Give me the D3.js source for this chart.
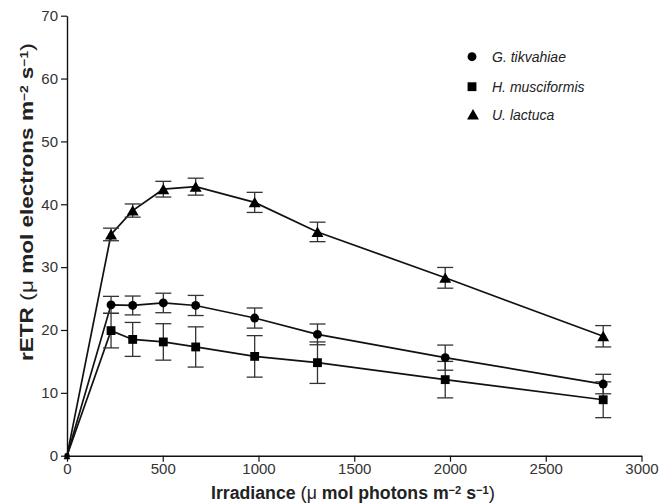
<!DOCTYPE html>
<html>
<head>
<meta charset="utf-8">
<script src="https://cdn.jsdelivr.net/npm/d3@7"></script>
<style>
  body { margin: 0; background: #fff; }
  text { font-family: "Liberation Sans", Arial, sans-serif; }
</style>
</head>
<body>
<div id="vis1"></div>
<script>
// irradiance steps (x) and rETR per species
const irradiance = [0, 230, 343, 503, 672, 980, 1308, 1975, 2800];
const gTikvahiae = [0, 24.0, 23.9, 24.3, 23.9, 21.9, 19.3, 15.6, 11.4];
const gTikvahiaeErr = [0, 1.35, 1.5, 1.55, 1.6, 1.6, 1.65, 2.0, 1.55];
const hMusciformis = [0, 19.9, 18.5, 18.1, 17.3, 15.8, 14.8, 12.1, 8.9];
const hMusciformisErr = [0, 2.75, 2.7, 2.9, 3.2, 3.3, 3.3, 2.9, 2.85];
const uLactuca = [0, 35.2, 39.0, 42.4, 42.8, 40.3, 35.6, 28.3, 19.0];
const uLactucaErr = [0, 1.0, 1.05, 1.25, 1.35, 1.6, 1.55, 1.65, 1.7];
const speciesNames = ['G. tikvahiae', 'H. musciformis', 'U. lactuca'];
const xTicks = [0, 500, 1000, 1500, 2000, 2500, 3000];
const yTicks = [0, 10, 20, 30, 40, 50, 60, 70];

const W = 671, H = 504;
const margin = {top: 15.7, left: 67, right: 29.5, bottom: 48.3};

const svg1 = d3.select('#vis1')
  .append('svg')
  .attr('width', W)
  .attr('height', H);

let x = d3.scaleLinear()
  .domain([0, 3000])
  .range([margin.left, W - margin.right]);

let y = d3.scaleLinear()
  .domain([0, 70])
  .range([H - margin.bottom, margin.top]);

// axes
let xAxis = svg1.append('g')
  .attr('transform', `translate(0,${y(0)})`)
  .call(d3.axisBottom(x).tickValues(xTicks).tickFormat(d3.format('d'))
    .tickSize(6).tickPadding(1.5).tickSizeOuter(0));

let yAxis = svg1.append('g')
  .attr('transform', `translate(${x(0)},0)`)
  .call(d3.axisLeft(y).tickValues(yTicks).tickSize(6).tickPadding(3).tickSizeOuter(0));

[xAxis, yAxis].forEach(a => {
  a.select('.domain').attr('stroke', '#111').attr('stroke-width', 1.4);
  a.selectAll('.tick line').attr('stroke', '#111').attr('stroke-width', 1.2);
  a.selectAll('.tick text')
    .attr('fill', '#333')
    .style('font-size', '15px')
    .style('font-family', '"Liberation Sans", Arial, sans-serif');
});

// series
let series = [
  {name: speciesNames[0], values: gTikvahiae, err: gTikvahiaeErr, symbol: d3.symbolCircle, size: 62},
  {name: speciesNames[1], values: hMusciformis, err: hMusciformisErr, symbol: d3.symbolSquare, size: 78},
  {name: speciesNames[2], values: uLactuca, err: uLactucaErr, symbol: d3.symbolTriangle, size: 62}
];

let line = d3.line()
  .x(d => x(d.x))
  .y(d => y(d.y));

series.forEach(s => {
  s.points = irradiance.map((v, i) => ({x: v, y: s.values[i], e: s.err[i]}));
});

svg1.append('g')
  .selectAll('path')
  .data(series)
  .join('path')
    .attr('d', d => line(d.points))
    .attr('fill', 'none')
    .attr('stroke', '#111')
    .attr('stroke-width', 1.7);

// error bars
let capW = 8;
series.forEach(s => {
  let g = svg1.append('g')
    .attr('stroke', '#333')
    .attr('stroke-width', 1.3);
  let pts = s.points.filter(p => p.e > 0);
  g.selectAll('.v')
    .data(pts)
    .join('line')
      .attr('x1', d => x(d.x)).attr('x2', d => x(d.x))
      .attr('y1', d => y(d.y - d.e)).attr('y2', d => y(d.y + d.e));
  g.selectAll('.top')
    .data(pts)
    .join('line')
      .attr('x1', d => x(d.x) - capW).attr('x2', d => x(d.x) + capW)
      .attr('y1', d => y(d.y + d.e)).attr('y2', d => y(d.y + d.e));
  g.selectAll('.bot')
    .data(pts)
    .join('line')
      .attr('x1', d => x(d.x) - capW).attr('x2', d => x(d.x) + capW)
      .attr('y1', d => y(d.y - d.e)).attr('y2', d => y(d.y - d.e));
});

// markers
series.forEach(s => {
  svg1.append('g')
    .selectAll('path')
    .data(s.points)
    .join('path')
      .attr('transform', d => `translate(${x(d.x)},${y(d.y) + (s.symbol === d3.symbolTriangle ? 1.5 : 0)})`)
      .attr('d', d3.symbol().type(s.symbol).size(d => d.x === 0 ? 20 : s.size))
      .attr('fill', '#000');
});

// legend
let legend = svg1.append('g')
  .selectAll('g')
  .data(series)
  .join('g')
    .attr('transform', (d, i) => `translate(472,${[56.7, 86.7, 115][i]})`);

legend.append('path')
  .attr('d', d => d3.symbol().type(d.symbol).size(d.size)())
  .attr('transform', d => d.symbol === d3.symbolTriangle ? 'translate(1,1)' : null)
  .attr('fill', '#000');

legend.append('text')
  .attr('x', 20)
  .attr('y', 5)
  .style('font-size', '14px')
  .style('font-style', 'italic')
  .attr('fill', '#222')
  .text(d => d.name);

// axis labels
function unitLabel(t, pre, word, fs) {
  t.style('font-size', fs + 'px').style('font-weight', 'bold').attr('fill', '#222');
  t.append('tspan').text(pre + ' ');
  t.append('tspan').style('font-weight', 'normal').style('font-size', (fs + 1) + 'px').text('(');
  t.append('tspan').style('font-weight', 'normal').text('μ');
  t.append('tspan').text(' mol ' + word + ' m');
  t.append('tspan').attr('dy', -5).style('font-size', '11px').text('−2');
  t.append('tspan').attr('dy', 5).text(' s');
  t.append('tspan').attr('dy', -5).style('font-size', '11px').text('−1');
  t.append('tspan').attr('dy', 5).style('font-weight', 'normal').style('font-size', (fs + 1) + 'px').text(')');
}

svg1.append('text')
  .attr('text-anchor', 'middle')
  .attr('transform', `translate(353,499)`)
  .call(unitLabel, 'Irradiance', 'photons', 17.5)
  .attr('textLength', 284)
  .attr('lengthAdjust', 'spacingAndGlyphs');

svg1.append('text')
  .attr('text-anchor', 'middle')
  .attr('transform', 'translate(33,202) rotate(-90)')
  .call(unitLabel, 'rETR', 'electrons', 18)
  .attr('textLength', 318)
  .attr('lengthAdjust', 'spacingAndGlyphs');
</script>
</body>
</html>
